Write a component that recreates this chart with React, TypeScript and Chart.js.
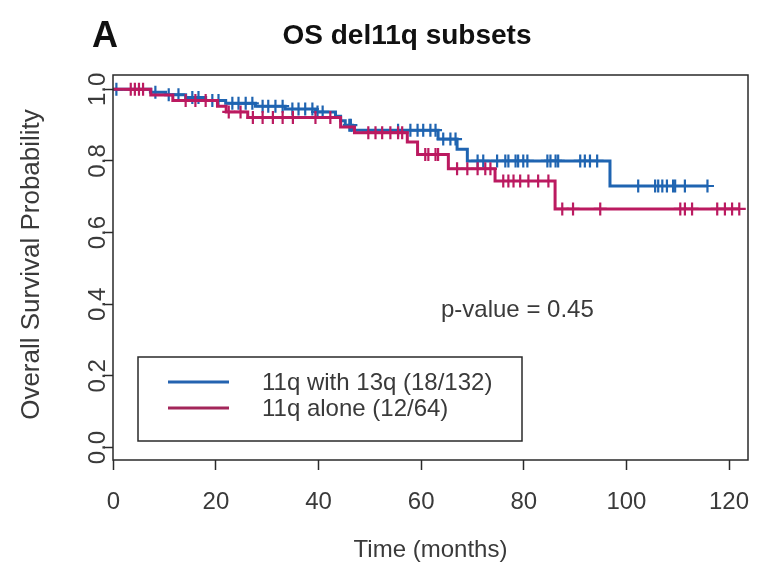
import React, { useEffect, useRef } from 'react';
import { Chart, registerables } from 'chart.js';
Chart.register(...registerables);

const panelLetter = 'A';
const chartTitle = 'OS del11q subsets';
const xAxisTitle = 'Time (months)';
const yAxisTitle = 'Overall Survival Probability';
const pValueText = 'p-value = 0.45';

const xTickValues = [0, 20, 40, 60, 80, 100, 120];
const yTickValues = [0, 0.2, 0.4, 0.6, 0.8, 1.0];
const yTickLabels = ['0.0', '0.2', '0.4', '0.6', '0.8', '1.0'];

const seriesNames = ['11q with 13q (18/132)', '11q alone (12/64)'];
const seriesColors = ['#1f64b1', '#bb1a60'];
const legendColors = ['#2463b0', '#a3265a'];

// 11q with 13q
const blueEventTimes = [7.3, 10.2, 14.1, 18.0, 21.9, 27.7, 33.5, 39.4, 43.3, 44.3, 45.2, 46.6, 63.3, 67.0, 69.0, 96.8];
const blueSurvival = [0.992, 0.985, 0.977, 0.969, 0.961, 0.953, 0.945, 0.937, 0.925, 0.912, 0.9, 0.886, 0.861, 0.833, 0.8, 0.73];
const blueCensorTimes = [0.6, 8.2, 10.8, 12.7, 15.4, 16.6, 19.3, 20.5, 23.2, 24.4, 25.8, 27.1, 29.1, 30.2, 31.6, 33.0, 34.9, 36.1, 37.4, 38.8, 39.8, 40.8, 46.0, 46.3, 55.5, 57.9, 59.3, 60.4, 61.8, 62.8, 64.3, 65.7, 66.7, 71.0, 72.1, 74.8, 76.4, 77.0, 78.4, 78.9, 79.9, 80.7, 84.6, 85.2, 86.2, 86.7, 91.0, 91.9, 92.9, 94.3, 102.3, 105.6, 106.2, 107.0, 107.9, 109.1, 109.5, 111.4, 115.8];
const blueLastTime = 115.8;

// 11q alone
const redEventTimes = [7.3, 11.6, 20.3, 22.0, 26.2, 44.3, 47.0, 57.3, 59.3, 65.3, 74.4, 86.1];
const redSurvival = [0.984, 0.969, 0.953, 0.937, 0.921, 0.895, 0.879, 0.853, 0.818, 0.778, 0.744, 0.666];
const redCensorTimes = [3.4, 4.2, 5.0, 5.8, 14.1, 16.0, 18.0, 22.5, 24.8, 27.2, 29.1, 31.1, 33.0, 35.0, 39.4, 42.3, 49.7, 51.1, 52.4, 54.0, 55.5, 56.3, 60.8, 61.4, 62.8, 63.3, 67.0, 69.0, 71.0, 72.5, 73.5, 76.0, 77.0, 78.0, 79.3, 80.9, 82.8, 84.8, 87.5, 89.6, 94.9, 110.5, 111.4, 112.8, 117.7, 119.2, 120.6, 122.0];
const redLastTime = 122.0;

const FONT = '"Liberation Sans", Arial, Helvetica, sans-serif';

function survAt(times: number[], surv: number[], t: number) {
  let s = 1;
  for (let i = 0; i < times.length; i++) if (times[i] <= t) s = surv[i];
  return s;
}
function curve(times: number[], surv: number[], last: number) {
  const pts = [{ x: 0, y: 1 }];
  times.forEach((t, i) => pts.push({ x: t, y: surv[i] }));
  pts.push({ x: last, y: surv[surv.length - 1] });
  return pts;
}
function censors(times: number[], surv: number[], ct: number[]) {
  return ct.map((t) => ({ x: t, y: survAt(times, surv, t) }));
}

const decor = {
  id: 'decor',
  afterDraw(chart: any) {
    const { ctx, chartArea: a, scales } = chart;
    const ys = scales.y;
    ctx.save();
    ctx.strokeStyle = '#2a2a2a';
    ctx.lineWidth = 1.5;
    ctx.strokeRect(a.left, a.top, a.right - a.left, a.bottom - a.top);

    // y tick labels rotated
    ctx.fillStyle = '#3a3a3a';
    ctx.font = `24px ${FONT}`;
    yTickValues.forEach((v, i) => {
      const py = ys.getPixelForValue(v);
      ctx.save();
      ctx.translate(105, py);
      ctx.rotate(-Math.PI / 2);
      ctx.textAlign = 'center';
      ctx.textBaseline = 'alphabetic';
      ctx.fillText(yTickLabels[i], 0, 0);
      ctx.restore();
    });

    // y axis title
    ctx.save();
    ctx.translate(39, (a.top + a.bottom) / 2 - 3);
    ctx.rotate(-Math.PI / 2);
    ctx.textAlign = 'center';
    ctx.textBaseline = 'alphabetic';
    ctx.font = `26px ${FONT}`;
    ctx.fillText(yAxisTitle, 0, 0);
    ctx.restore();

    // x axis title
    ctx.textAlign = 'center';
    ctx.textBaseline = 'alphabetic';
    ctx.font = `24px ${FONT}`;
    ctx.fillText(xAxisTitle, (a.left + a.right) / 2, 557);

    // title and panel letter
    ctx.fillStyle = '#111';
    ctx.font = `bold 28px ${FONT}`;
    ctx.fillText(chartTitle, 407, 44);
    ctx.font = `bold 36px ${FONT}`;
    ctx.fillText(panelLetter, 105, 47);

    // p-value
    ctx.fillStyle = '#3a3a3a';
    ctx.textAlign = 'left';
    ctx.font = `24px ${FONT}`;
    ctx.fillText(pValueText, 441, 317);

    // legend
    ctx.strokeStyle = '#2a2a2a';
    ctx.lineWidth = 1.5;
    ctx.strokeRect(138, 357, 384, 84);
    const rows = [382, 408];
    seriesNames.forEach((name, i) => {
      ctx.strokeStyle = legendColors[i];
      ctx.lineWidth = 3;
      ctx.beginPath();
      ctx.moveTo(168, rows[i]);
      ctx.lineTo(229, rows[i]);
      ctx.stroke();
      ctx.fillStyle = '#3a3a3a';
      ctx.textBaseline = 'middle';
      ctx.fillText(name, 262, rows[i] + 1);
    });
    ctx.restore();
  },
};

export default function App() {
  const ref = useRef<HTMLCanvasElement>(null);
  useEffect(() => {
    Chart.defaults.font.family = FONT;
    const chart = new Chart(ref.current as HTMLCanvasElement, {
      type: 'line',
      data: {
        datasets: [
          {
            label: seriesNames[1] + ' censored',
            type: 'scatter',
            data: censors(redEventTimes, redSurvival, redCensorTimes),
            pointStyle: 'cross',
            pointRadius: 6.5,
            pointBorderWidth: 2.2,
            borderColor: seriesColors[1],
            backgroundColor: seriesColors[1],
            showLine: false,
          } as any,
          {
            label: seriesNames[1],
            data: curve(redEventTimes, redSurvival, redLastTime),
            stepped: true,
            borderColor: seriesColors[1],
            borderWidth: 3,
            pointRadius: 0,
            fill: false,
          },
          {
            label: seriesNames[0] + ' censored',
            type: 'scatter',
            data: censors(blueEventTimes, blueSurvival, blueCensorTimes),
            pointStyle: 'cross',
            pointRadius: 6.5,
            pointBorderWidth: 2.2,
            borderColor: seriesColors[0],
            backgroundColor: seriesColors[0],
            showLine: false,
          } as any,
          {
            label: seriesNames[0],
            data: curve(blueEventTimes, blueSurvival, blueLastTime),
            stepped: true,
            borderColor: seriesColors[0],
            borderWidth: 3,
            pointRadius: 0,
            fill: false,
          },
        ],
      },
      options: {
        responsive: false,
        animation: false,
        devicePixelRatio: 1,
        layout: { padding: { top: 75, right: 12, left: 0, bottom: 0 } },
        plugins: { legend: { display: false }, tooltip: { enabled: false }, title: { display: false } },
        scales: {
          x: {
            type: 'linear',
            min: -0.06,
            max: 123.7,
            afterFit: (s: any) => { s.height = 104; s.paddingLeft = 0; s.paddingRight = 0; },
            afterBuildTicks: (s: any) => { s.ticks = xTickValues.map((v) => ({ value: v })); },
            ticks: { font: { size: 24 }, color: '#3a3a3a', padding: 18, maxRotation: 0, autoSkip: false, callback: (v: any) => String(v) },
            grid: { display: true, drawOnChartArea: false, drawTicks: true, tickLength: 10, tickColor: '#2a2a2a', tickWidth: 1.5 },
            border: { display: false },
          },
          y: {
            type: 'linear',
            min: -0.035,
            max: 1.04,
            afterFit: (s: any) => { s.width = 113; s.paddingTop = 0; s.paddingBottom = 0; },
            afterBuildTicks: (s: any) => { s.ticks = yTickValues.map((v) => ({ value: v })); },
            ticks: { display: false },
            grid: { display: true, drawOnChartArea: false, drawTicks: true, tickLength: 9, tickColor: '#2a2a2a', tickWidth: 1.5 },
            border: { display: false },
          },
        },
      },
      plugins: [decor],
    });
    return () => chart.destroy();
  }, []);
  return (
    <div style={{ position: 'absolute', left: 0, top: 0, width: 760, height: 564, background: '#fff' }}>
      <canvas ref={ref} width={760} height={564} style={{ display: 'block', width: 760, height: 564 }} />
    </div>
  );
}
